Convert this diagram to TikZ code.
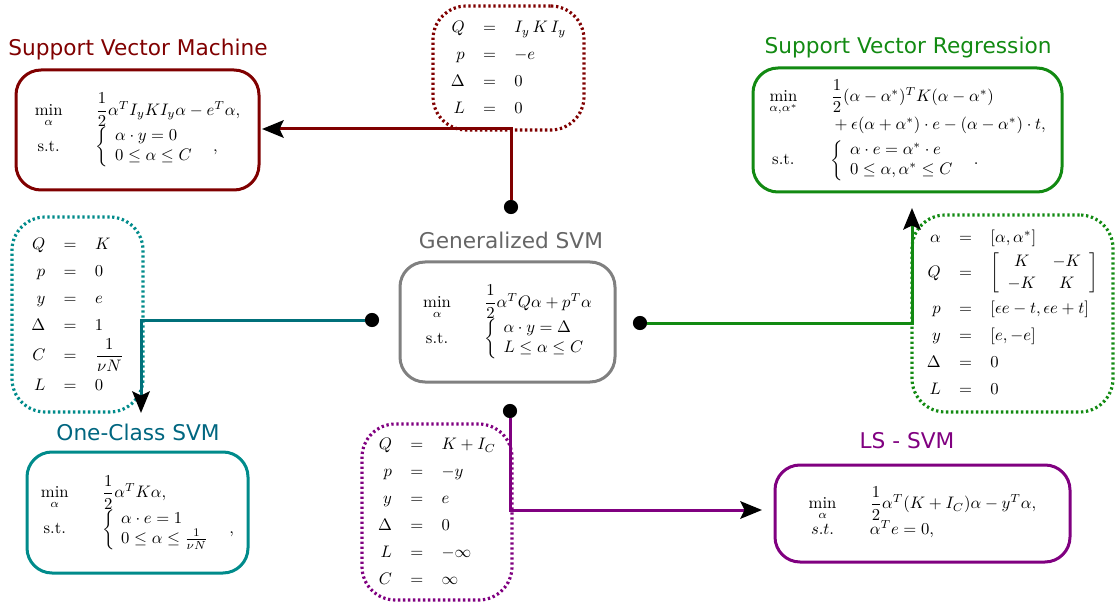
\documentclass[tikz,border=0pt]{standalone}
\usepackage{fontspec}
\usepackage{amsmath}
\usetikzlibrary{arrows.meta}
\newfontfamily\labelfont{DejaVu Sans}
\definecolor{svmred}{HTML}{800000}
\definecolor{octeal}{HTML}{008B8B}
\definecolor{octitle}{HTML}{006680}
\definecolor{ocline}{HTML}{00707A}
\definecolor{svrgreen}{HTML}{128A12}
\definecolor{lspurple}{HTML}{800080}
\definecolor{gengray}{HTML}{808080}
\definecolor{gentitle}{HTML}{666666}
\newcommand{\optcols}{@{}c@{\hspace{20pt}}l@{}}
\newcommand{\subcols}{@{}r@{\hspace{11pt}}c@{\hspace{11pt}}l@{}}
\newcommand{\casecols}{@{\hspace{4pt}}l@{}}
\begin{document}
\begin{tikzpicture}[x=0.6pt,y=-0.6pt,
  sz/.style 2 args={minimum width=#1*0.6pt,minimum height=#2*0.6pt},
  model/.style={draw,line width=1.8pt,rounded corners=15pt,inner sep=0pt},
  subst/.style={draw,line width=1.9pt,dash pattern=on 1.4pt off 1.6pt,rounded corners=20pt,inner sep=0pt},
  title/.style={font=\labelfont\fontsize{13}{15}\selectfont,inner sep=0pt},
  junction/.style={circle,fill=black,inner sep=0pt,minimum size=8.5pt},
  link/.style={line width=1.8pt,-{Stealth[black,length=13pt,width=10.5pt,inset=2.5pt]}},
]
\useasboundingbox (0,0) rectangle (1119,603);

% ---------- parameter substitutions (dotted) ----------
\node[subst,svmred,sz={151}{124}] (svmpar) at (508.5,68) {\color{black}%
  $\renewcommand{\arraystretch}{1.35}\begin{array}{\subcols}
  Q&=&I_y\,K\,I_y\\ p&=&-e\\ \Delta&=&0\\ L&=&0
  \end{array}$};

\node[subst,octeal,sz={131}{195}] (ocpar) at (77.5,314.5) {\color{black}%
  $\renewcommand{\arraystretch}{1.35}\begin{array}{\subcols}
  Q&=&K\\ p&=&0\\ y&=&e\\ \Delta&=&1\\ C&=&\dfrac{1}{\nu N}\\ L&=&0
  \end{array}$};

\node[subst,svrgreen,sz={201}{197}] (svrpar) at (1012.5,313.5) {\color{black}%
  $\renewcommand{\arraystretch}{1.35}\begin{array}{\subcols}
  \alpha&=&[\alpha,\alpha^*]\\
  Q&=&{\renewcommand{\arraystretch}{1.1}\left[\begin{array}{cc}K&-K\\-K&K\end{array}\right]}\\
  p&=&[\epsilon e-t,\epsilon e+t]\\ y&=&[e,-e]\\ \Delta&=&0\\ L&=&0
  \end{array}$};

\node[subst,lspurple,sz={150}{176}] (lspar) at (437,512) {\color{black}%
  $\renewcommand{\arraystretch}{1.35}\begin{array}{\subcols}
  Q&=&K+I_C\\ p&=&-y\\ y&=&e\\ \Delta&=&0\\ L&=&-\infty\\ C&=&\infty
  \end{array}$};

% ---------- models ----------
\node[model,gengray,sz={215}{120}] (gen) at (507.5,322) {\color{black}%
  $\begin{array}{\optcols}
  \min\limits_{\alpha} & \dfrac{1}{2}\alpha^TQ\alpha+p^T\alpha\\[2pt]
  \text{s.t.} & \left\{\begin{array}{\casecols}\alpha\cdot y=\Delta\\ L\le\alpha\le C\end{array}\right.
  \end{array}$};
\node[title,gentitle] (gentl) at (511,240) {Generalized SVM};

\node[model,svmred,sz={243}{120}] (svm) at (137.5,130) {\color{black}%
  $\begin{array}{\optcols}
  \min\limits_{\alpha} & \dfrac{1}{2}\alpha^TI_yKI_y\alpha-e^T\alpha,\\[2pt]
  \text{s.t.} & \left\{\begin{array}{\casecols}\alpha\cdot y=0\\ 0\le\alpha\le C\end{array}\right.\quad,
  \end{array}$};
\node[title,svmred] (svmtl) at (138,50) {Support Vector Machine};

\node[model,svrgreen,sz={309}{124}] (svr) at (907.5,130) {\color{black}%
  $\begin{array}{\optcols}
  \min\limits_{\alpha,\alpha^*} & \dfrac{1}{2}(\alpha-\alpha^*)^TK(\alpha-\alpha^*)\\[5pt]
   & {}+\epsilon(\alpha+\alpha^*)\cdot e-(\alpha-\alpha^*)\cdot t,\\[3pt]
  \text{s.t.} & \left\{\begin{array}{\casecols}\alpha\cdot e=\alpha^*\cdot e\\ 0\le\alpha,\alpha^*\le C\end{array}\right.\quad.
  \end{array}$};
\node[title,svrgreen] (svrtl) at (908,48) {Support Vector Regression};

\node[model,octeal,sz={221}{121}] (oc) at (137.5,512.5) {\color{black}%
  $\begin{array}{\optcols}
  \min\limits_{\alpha} & \dfrac{1}{2}\alpha^TK\alpha,\\[2pt]
  \text{s.t.} & \left\{\begin{array}{\casecols}\alpha\cdot e=1\\ 0\le\alpha\le \frac{1}{\nu N}\end{array}\right.\quad,
  \end{array}$};
\node[title,octitle] (octl) at (138,432) {One-Class SVM};

\node[model,lspurple,sz={295}{97}] (ls) at (922.5,513.5) {\color{black}%
  $\begin{array}{\optcols}
  \min\limits_{\alpha} & \dfrac{1}{2}\alpha^T(K+I_C)\alpha-y^T\alpha,\\[2pt]
  s.t. & \alpha^Te=0,
  \end{array}$};
\node[title,lspurple] (lstl) at (907,441) {LS - SVM};

% ---------- junctions and connectors ----------
\node[junction] (jtop) at (511,207) {};
\node[junction] (jleft) at (372,320) {};
\node[junction] (jright) at (640,323) {};
\node[junction] (jbottom) at (510,411) {};

\coordinate (svmin) at (262,129);
\coordinate (ocin) at (141,413);
\coordinate (svrin) at (912,208);
\coordinate (lsin) at (762,510);

\draw[link,svmred] (jtop) |- (svmin);
\draw[link,ocline] (jleft) -| (ocin);
\draw[link,svrgreen] (jright) -| (svrin);
\draw[link,lspurple] (jbottom) |- (lsin);
\end{tikzpicture}
\end{document}
